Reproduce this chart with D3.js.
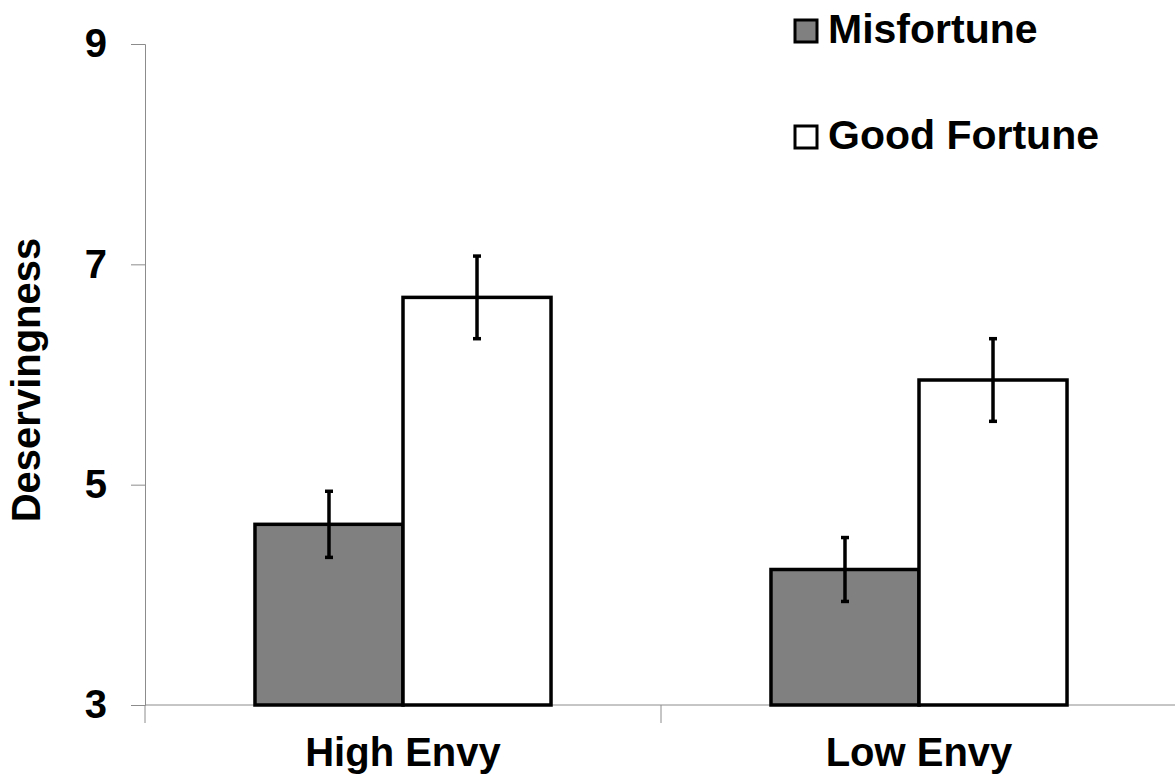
<!DOCTYPE html>
<html>
<head>
<meta charset="utf-8">
<script src="https://cdn.jsdelivr.net/npm/d3@7.9.0/dist/d3.min.js"></script>
<style>
  html, body { margin: 0; padding: 0; background: #fff; }
  svg { display: block; font-family: "Liberation Sans", Arial, sans-serif; font-weight: bold; }
</style>
</head>
<body>
<svg id="chart" width="1175" height="776"></svg>
<script>
const categories = ['High Envy', 'Low Envy'];
const series = ['Misfortune', 'Good Fortune'];
const means = {
  'Misfortune': [4.64, 4.23],
  'Good Fortune': [6.70, 5.95]
};
const errors = {
  'Misfortune': [0.30, 0.29],
  'Good Fortune': [0.375, 0.375]
};
const yTicks = [3, 5, 7, 9];
const colors = { 'Misfortune': '#808080', 'Good Fortune': '#ffffff' };

const svg = d3.select('#chart');
const plotLeft = 145, plotRight = 1177, plotTop = 44, plotBottom = 705;

const y = d3.scaleLinear().domain([3, 9]).range([plotBottom, plotTop]);
const x0 = d3.scaleBand().domain(categories).range([plotLeft, plotRight]);
const x1 = d3.scaleBand().domain(series).range([0, x0.bandwidth()]).paddingOuter(0.743);

// y axis
const yAxis = svg.append('g')
  .attr('transform', `translate(${plotLeft},0)`)
  .call(d3.axisLeft(y).tickValues(yTicks).tickFormat(d3.format('d')).tickSize(14).tickPadding(24));
yAxis.select('.domain').attr('stroke', '#8c8c8c');
yAxis.selectAll('.tick line').attr('stroke', '#8c8c8c');
yAxis.selectAll('.tick text')
  .attr('font-size', 40).attr('font-weight', 'bold').attr('fill', '#000')
  .attr('font-family', '"Liberation Sans", Arial, sans-serif');

// x axis baseline and category dividers
svg.append('line')
  .attr('x1', plotLeft).attr('x2', plotRight)
  .attr('y1', plotBottom).attr('y2', plotBottom)
  .attr('stroke', '#8c8c8c');
const dividers = [plotLeft, ...categories.map(c => x0(c) + x0.bandwidth())];
svg.selectAll('.divider').data(dividers).join('line')
  .attr('x1', d => d).attr('x2', d => d)
  .attr('y1', plotBottom).attr('y2', plotBottom + 18)
  .attr('stroke', '#8c8c8c');

svg.selectAll('.xlabel').data(categories).join('text')
  .attr('x', d => x0(d) + x0.bandwidth() / 2)
  .attr('y', 766)
  .attr('text-anchor', 'middle')
  .attr('font-size', 40)
  .text(d => d);

// bars
const groups = svg.selectAll('.grp').data(categories).join('g')
  .attr('transform', d => `translate(${x0(d)},0)`);

series.forEach(s => {
  groups.append('rect')
    .attr('x', x1(s))
    .attr('width', x1.bandwidth())
    .attr('y', (d, i) => y(means[s][i]))
    .attr('height', (d, i) => plotBottom - y(means[s][i]))
    .attr('fill', colors[s])
    .attr('stroke', '#000')
    .attr('stroke-width', 3.5);
});

// error bars
series.forEach(s => {
  const cx = x1(s) + x1.bandwidth() / 2;
  groups.append('line')
    .attr('x1', cx).attr('x2', cx)
    .attr('y1', (d, i) => y(means[s][i] + errors[s][i]))
    .attr('y2', (d, i) => y(means[s][i] - errors[s][i]))
    .attr('stroke', '#000').attr('stroke-width', 3.5);
  [1, -1].forEach(sign => {
    groups.append('line')
      .attr('x1', cx - 4).attr('x2', cx + 4)
      .attr('y1', (d, i) => y(means[s][i] + sign * errors[s][i]))
      .attr('y2', (d, i) => y(means[s][i] + sign * errors[s][i]))
      .attr('stroke', '#000').attr('stroke-width', 3.5);
  });
});

// y title
svg.append('text')
  .attr('transform', 'translate(40,380) rotate(-90)')
  .attr('text-anchor', 'middle')
  .attr('font-size', 40)
  .text('Deservingness');

// legend
const legend = svg.selectAll('.leg').data(series).join('g')
  .attr('transform', (d, i) => `translate(795,${20 + i * 106})`);
legend.append('rect')
  .attr('width', 22).attr('height', 22)
  .attr('fill', d => colors[d])
  .attr('stroke', '#000').attr('stroke-width', 3);
legend.append('text')
  .attr('x', 33).attr('y', 23)
  .attr('font-size', 41)
  .text(d => d);
</script>
</body>
</html>
